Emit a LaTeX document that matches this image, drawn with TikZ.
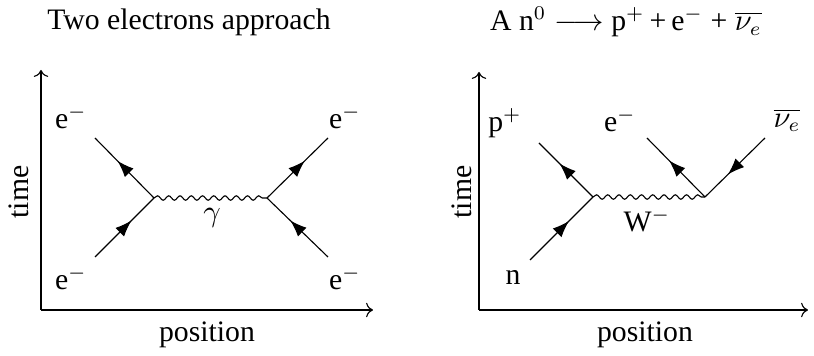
\documentclass[tikz,border=0pt]{standalone}
\usepackage{fontspec}
\setmainfont{Liberation Serif}
\usetikzlibrary{decorations.pathmorphing,decorations.markings,arrows.meta}
\begin{document}
\begin{tikzpicture}[x=0.36pt,y=-0.36pt,
  every node/.style={font=\fontsize{10.7}{13}\selectfont, inner sep=0pt},
  axis/.style={line width=0.4pt,->},
  fermion/.style={line width=0.4pt, postaction={decorate},
    decoration={markings, mark=at position 0.62 with {\arrow{Latex[length=6pt,width=4.4pt]}}}},
  boson/.style={line width=0.4pt, decorate,
    decoration={snake, amplitude=0.8pt, segment length=4.05pt}}]
\useasboundingbox (0,0) rectangle (814,356);

% ---- left panel ----
\node (t1) at (189,22) {Two electrons approach};
\coordinate (o1) at (41,310);
\coordinate (y1) at (41,70);
\coordinate (x1) at (373,310);
\draw[axis] (o1) -- (y1);
\draw[axis] (o1) -- (x1);
\node[rotate=90] (time1) at (19,192) {time};
\node (pos1) at (207,335) {position};

\coordinate (va) at (154,198);
\coordinate (vb) at (267,198);
\coordinate (a1) at (95,138);
\coordinate (a2) at (95,257);
\coordinate (a3) at (328,138);
\coordinate (a4) at (328,257);
\draw[fermion] (va) -- (a1);
\draw[fermion] (a2) -- (va);
\draw[fermion] (vb) -- (a3);
\draw[fermion] (a4) -- (vb);
\draw[boson] (va) -- (vb);
\node (la1) at (71,117) {e$^-$};
\node (la2) at (71,278) {e$^-$};
\node (la3) at (345,117) {e$^-$};
\node (la4) at (345,278) {e$^-$};
\node (gam) at (212,218) {$\gamma$};

% ---- right panel ----
\node (t2) at (626,22) {A n$^0\longrightarrow$ p$^+$\,+\,e$^-$ + $\overline{\nu_e}$};
\coordinate (o2) at (479,310);
\coordinate (y2) at (479,72);
\coordinate (x2) at (808,310);
\draw[axis] (o2) -- (y2);
\draw[axis] (o2) -- (x2);
\node[rotate=90] (time2) at (462,192) {time};
\node (pos2) at (645,335) {position};

\coordinate (vc) at (593,197);
\coordinate (vd) at (705,197);
\coordinate (b1) at (530,260);
\coordinate (b2) at (539,143);
\coordinate (b3) at (647,138);
\coordinate (b4) at (765,138);
\draw[fermion] (b1) -- (vc);
\draw[fermion] (vc) -- (b2);
\draw[fermion] (vd) -- (b3);
\draw[fermion] (b4) -- (vd);
\draw[boson] (vc) -- (vd);
\node (lb1) at (513,278) {n};
\node (lb2) at (505,123) {p$^+$};
\node (lb3) at (620,120) {e$^-$};
\node (lb4) at (787,120) {$\overline{\nu_e}$};
\node (wm) at (647,220) {W$^-$};
\end{tikzpicture}
\end{document}
